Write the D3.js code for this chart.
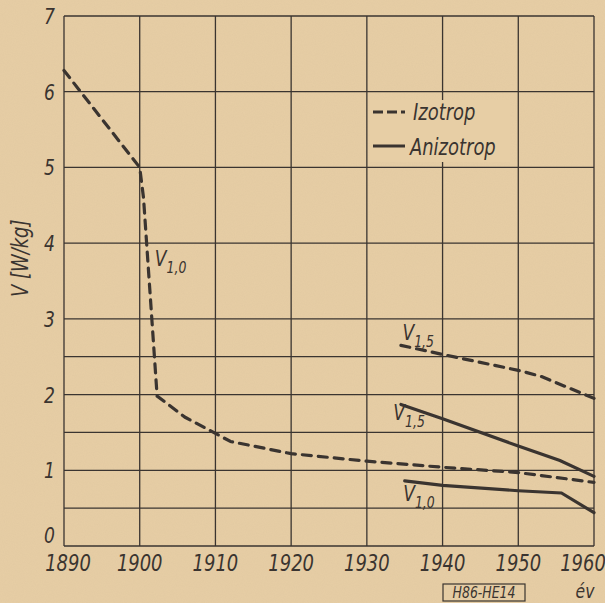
<!DOCTYPE html>
<html>
<head>
<meta charset="utf-8">
<script src="https://cdn.jsdelivr.net/npm/d3@7"></script>
<style>
  body { margin: 0; background: #e6cda3; }
  svg { display: block; }
  .lbl { font-family: "DejaVu Sans", sans-serif; font-style: italic; fill: #3a3430; }
</style>
</head>
<body>
<div id="chart"></div>
<script>
// values
const yearTicks = [1890, 1900, 1910, 1920, 1930, 1940, 1950, 1960];
const vTicks = [0, 1, 2, 3, 4, 5, 6, 7];
const vGrid = [0, 0.5, 1, 1.5, 2, 2.5, 3, 4, 5, 6, 7];

const izoV10 = [[1890, 6.28], [1900, 5.0], [1900.5, 4.6], [1902.3, 1.98], [1906, 1.7], [1912, 1.38],
  [1920, 1.22], [1930, 1.12], [1940, 1.04], [1950, 0.97], [1960, 0.84]];
const izoV15 = [[1934.5, 2.65], [1940, 2.53], [1950, 2.32], [1953, 2.24], [1960, 1.95]];
const aniV15 = [[1934.5, 1.87], [1940, 1.68], [1950, 1.32], [1955.5, 1.13], [1960, 0.92]];
const aniV10 = [[1935, 0.86], [1940, 0.8], [1950, 0.73], [1955.7, 0.7], [1960, 0.44]];

const curveLabels = [
  {text: "V", sub: "1,0", at: [1902, 3.7]},
  {text: "V", sub: "1,5", at: [1934.7, 2.72]},
  {text: "V", sub: "1,5", at: [1933.5, 1.66]},
  {text: "V", sub: "1,0", at: [1934.8, 0.6]}
];

const width = 605, height = 603;
const margin = {top: 16, right: 11, bottom: 57, left: 64};
const ink = "#3a3430";
const squeeze = "scale(0.78,1)";

const svg = d3.select("#chart").append("svg")
  .attr("width", width)
  .attr("height", height);

// paper grain
const defs = svg.append("defs");
const f = defs.append("filter").attr("id", "grain");
f.append("feTurbulence").attr("type", "fractalNoise").attr("baseFrequency", 0.9).attr("numOctaves", 2).attr("seed", 3);
f.append("feColorMatrix").attr("values", "0 0 0 0 0.55  0 0 0 0 0.42  0 0 0 0 0.28  0 0 0 0.35 0");
svg.append("rect").attr("width", width).attr("height", height).attr("fill", "#e7cea5");
svg.append("rect").attr("width", width).attr("height", height).attr("filter", "url(#grain)").attr("opacity", 0.35);

const x = d3.scaleLinear().domain([1890, 1960]).range([margin.left, width - margin.right]);
const y = d3.scaleLinear().domain([0, 7]).range([height - margin.bottom, margin.top]);

// grid
const grid = svg.append("g").attr("stroke", ink).attr("stroke-width", 1.3).attr("fill", "none");
grid.selectAll(".h").data(vGrid).join("line")
  .attr("x1", x(1890)).attr("x2", x(1960))
  .attr("y1", d => y(d)).attr("y2", d => y(d));
grid.selectAll(".v").data(yearTicks).join("line")
  .attr("x1", d => x(d)).attr("x2", d => x(d))
  .attr("y1", y(0)).attr("y2", y(7));

// narrow hand lettering: squeeze each label around its own anchor
function label(parent, px, py, size, str, anchor) {
  return parent.append("g").attr("transform", `translate(${px},${py})`)
    .append("text").attr("class", "lbl").attr("transform", squeeze)
    .attr("font-size", size).attr("text-anchor", anchor || "start").text(str);
}

// tick labels (end labels pulled inward as on the drawing)
const xa = svg.append("g").attr("transform", `translate(0,${y(0)})`);
yearTicks.forEach(d => label(xa, Math.min(Math.max(x(d), x(1890) + 4), x(1960) - 11), 25, 23, d, "middle"));

const ya = svg.append("g");
vTicks.forEach(d => label(ya, x(1890) - 9, Math.min(y(d) + 8, y(0) - 3), 22, d, "end"));

label(svg, 28, y(3.8), 23, "V [W/kg]", "middle")
  .attr("transform", "rotate(-90) " + squeeze);

// legend (gridline is broken behind it)
const lg = svg.append("g");
lg.append("rect").attr("x", 370).attr("y", 100).attr("width", 140).attr("height", 62).attr("fill", "#e7cea5");
lg.append("line").attr("x1", 373).attr("x2", 405).attr("y1", 112).attr("y2", 112)
  .attr("stroke", ink).attr("stroke-width", 3).attr("stroke-dasharray", "10,4");
lg.append("line").attr("x1", 373).attr("x2", 405).attr("y1", 146).attr("y2", 146)
  .attr("stroke", ink).attr("stroke-width", 3);
label(lg, 413, 120, 23, "Izotrop");
label(lg, 410, 155, 23, "Anizotrop");

// curves
const line = d3.line().x(d => x(d[0])).y(d => y(d[1]));
const curves = svg.append("g").attr("fill", "none").attr("stroke", ink).attr("stroke-width", 3.2).attr("stroke-linecap", "round");
curves.append("path").datum(izoV10).attr("d", line).attr("stroke-dasharray", "9,7");
curves.append("path").datum(izoV15).attr("d", line).attr("stroke-dasharray", "9,7");
curves.append("path").datum(aniV15).attr("d", line);
curves.append("path").datum(aniV10).attr("d", line);

// curve labels
curveLabels.forEach(c => {
  const t = label(svg, x(c.at[0]), y(c.at[1]), 22, null);
  t.append("tspan").text(c.text);
  t.append("tspan").attr("font-size", 16).attr("dy", 7).text(c.sub);
});

// footer
label(svg, 585, 598, 20, "év", "middle");
svg.append("rect").attr("x", 443).attr("y", 584).attr("width", 82).attr("height", 17)
  .attr("fill", "none").attr("stroke", ink).attr("stroke-width", 1.2);
label(svg, 484, 598, 16, "H86-HE14", "middle");
</script>
</body>
</html>
